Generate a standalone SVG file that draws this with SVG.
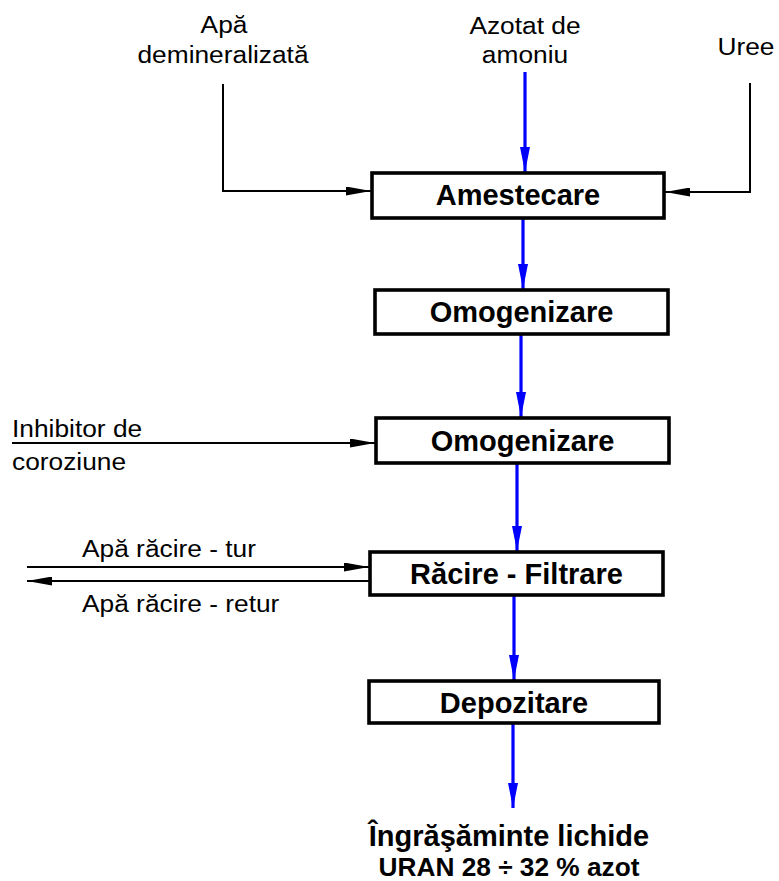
<svg xmlns="http://www.w3.org/2000/svg" width="779" height="881" viewBox="0 0 779 881">
  <style>
    .box { fill: #ffffff; stroke: #000000; stroke-width: 3.6; }
    .lbl { font-family: "Liberation Sans", Arial, sans-serif; font-weight: bold; font-size: 29px; fill: #000000; text-anchor: middle; }
    .txt { font-family: "Liberation Sans", Arial, sans-serif; font-size: 23.5px; fill: #000000; }
    .mid { text-anchor: middle; }
    .flow { fill: none; stroke: #0000ff; stroke-width: 3.2; marker-end: url(#blueHead); }
    .feed { fill: none; stroke: #000000; stroke-width: 2; marker-end: url(#blackHead); }
  </style>
  <defs>
    <marker id="blueHead" markerUnits="userSpaceOnUse" markerWidth="25" markerHeight="10" refX="25" refY="5" orient="auto">
      <path d="M0,0 L25,5 L0,10 Z" fill="#0000ff"/>
    </marker>
    <marker id="blackHead" markerUnits="userSpaceOnUse" markerWidth="25" markerHeight="9" refX="25" refY="4.5" orient="auto">
      <path d="M0,0 L25,4.5 L0,9 Z" fill="#000000"/>
    </marker>
  </defs>
  <rect width="779" height="881" fill="#ffffff"/>

  <!-- input and utility labels -->
  <g id="inputs">
    <text class="txt mid" transform="translate(224,33) scale(1.12,1)">Apă</text>
    <text class="txt mid" transform="translate(223,63) scale(1.12,1)">demineralizată</text>
    <text class="txt mid" transform="translate(525,34) scale(1.12,1)">Azotat de</text>
    <text class="txt mid" transform="translate(525,63) scale(1.12,1)">amoniu</text>
    <text class="txt mid" transform="translate(746,55) scale(1.12,1)">Uree</text>
    <text class="txt" transform="translate(12,437) scale(1.12,1)">Inhibitor de</text>
    <text class="txt" transform="translate(12,470) scale(1.12,1)">coroziune</text>
    <text class="txt" transform="translate(82,557) scale(1.12,1)">Apă răcire - tur</text>
    <text class="txt" transform="translate(82,612) scale(1.12,1)">Apă răcire - retur</text>
  </g>

  <!-- connectors -->
  <g id="connectors">
    <path class="flow" d="M525,72 V172"/>
    <path class="flow" d="M523,219 V289"/>
    <path class="flow" d="M521,335 V417"/>
    <path class="flow" d="M517,464 V551"/>
    <path class="flow" d="M514,596 V680"/>
    <path class="flow" d="M513,724 V808"/>
    <path class="feed" d="M223,84 V191 H371"/>
    <path class="feed" d="M750,83 V192 H665"/>
    <path class="feed" d="M12,443 H375"/>
    <path class="feed" d="M27,567 H369"/>
    <path class="feed" d="M369,581 H27"/>
  </g>

  <!-- process steps -->
  <g id="amestecare">
    <rect class="box" x="372" y="173" width="292" height="45"/>
    <text class="lbl" x="518" y="205">Amestecare</text>
  </g>
  <g id="omogenizare1">
    <rect class="box" x="375" y="290" width="293" height="44"/>
    <text class="lbl" x="521.5" y="322">Omogenizare</text>
  </g>
  <g id="omogenizare2">
    <rect class="box" x="376" y="418" width="293" height="45"/>
    <text class="lbl" x="522.5" y="451">Omogenizare</text>
  </g>
  <g id="racire-filtrare">
    <rect class="box" x="370" y="552" width="293" height="43"/>
    <text class="lbl" x="516.5" y="584">Răcire - Filtrare</text>
  </g>
  <g id="depozitare">
    <rect class="box" x="369" y="681" width="290" height="42"/>
    <text class="lbl" x="514" y="713">Depozitare</text>
  </g>

  <!-- product -->
  <g id="produs">
    <text class="lbl" x="509" y="846">Îngrăşăminte lichide</text>
    <text class="lbl" transform="translate(509,876) scale(1.05,1)" style="font-size:25px">URAN 28 ÷ 32 % azot</text>
  </g>
</svg>
